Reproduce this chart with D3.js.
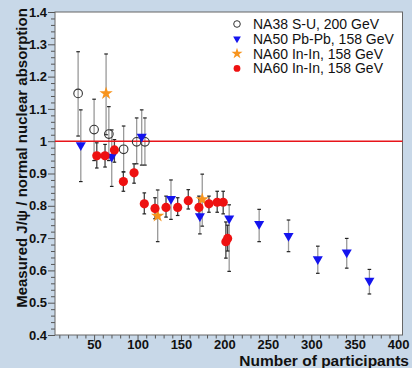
<!DOCTYPE html>
<html>
<head>
<meta charset="utf-8">
<script src="https://cdn.jsdelivr.net/npm/d3@7"></script>
<style>
  body { margin: 0; background: #c8d8e8; }
  svg { display: block; }
</style>
</head>
<body>
<script>
// [participants, ratio, low, high]
const na38 = [
  [31.6, 1.148, 1.016, 1.277],
  [50, 1.036, 0.94, 1.13],
  [67, 1.022, 0.94, 1.107],
  [84, 0.975, 0.905, 1.047],
  [99, 0.998, 0.93, 1.072],
  [108.5, 0.998, 0.926, 1.072]
]
const na50 = [
  [34.7, 0.988, 0.875, 1.097],
  [70.3, 0.952, 0.86, 1.035],
  [104.8, 1.014, 0.926, 1.097],
  [138.5, 0.821, 0.758, 0.88],
  [171.8, 0.768, 0.713, 0.82],
  [205.5, 0.761, 0.597, 0.803],
  [240, 0.744, 0.689, 0.789],
  [273.8, 0.707, 0.658, 0.756],
  [307.5, 0.635, 0.591, 0.675],
  [340.8, 0.656, 0.607, 0.699],
  [366.9, 0.568, 0.527, 0.603]
]
const na60Star = [
  [63.8, 1.148, 1.02, 1.27],
  [123.2, 0.769, 0.689, 0.849],
  [174.5, 0.82, 0.737, 0.898]
]
const na60Dot = [
  [53.1, 0.955, 0.917, 0.995],
  [62.6, 0.955, 0.92, 0.99],
  [73.4, 0.973, 0.935, 1.005],
  [83.7, 0.875, 0.845, 0.905],
  [96, 0.902, 0.87, 0.93],
  [107.8, 0.806, 0.775, 0.84],
  [120.1, 0.792, 0.76, 0.825],
  [132.8, 0.795, 0.765, 0.83],
  [146.2, 0.795, 0.77, 0.825],
  [158.4, 0.816, 0.79, 0.85],
  [170.7, 0.795, 0.77, 0.83],
  [182.2, 0.806, 0.78, 0.83],
  [191.7, 0.811, 0.78, 0.845],
  [198.6, 0.811, 0.775, 0.845],
  [201.7, 0.689, 0.638, 0.75],
  [203.7, 0.699, 0.66, 0.74]
]
const xTicks = [50, 100, 150, 200, 250, 300, 350, 400]
const yTicks = [0.4, 0.5, 0.6, 0.7, 0.8, 0.9, 1, 1.1, 1.2, 1.3, 1.4]
const legendLabels = [
  'NA38 S-U, 200 GeV',
  'NA50 Pb-Pb, 158 GeV',
  'NA60 In-In, 158 GeV',
  'NA60 In-In, 158 GeV'
]

const W = 412, H = 368
const font = "'Liberation Sans', Arial, Helvetica, sans-serif"
const plot = { left: 55, right: 402.5, top: 12, bottom: 335 }

const svg = d3.select('body').append('svg')
  .attr('width', W)
  .attr('height', H)

svg.append('rect').attr('width', W).attr('height', H).attr('fill', '#c8d8e8')

const x = d3.scaleLinear().domain([5, 405]).range([plot.left, plot.right])
const y = d3.scaleLinear().domain([0.4, 1.4]).range([plot.bottom, plot.top])

// plot area
svg.append('rect')
  .attr('x', plot.left).attr('y', plot.top)
  .attr('width', plot.right - plot.left).attr('height', plot.bottom - plot.top)
  .attr('fill', '#fff')

// minor ticks
const xMinor = d3.range(10, 401, 10).filter(v => v % 50 !== 0)
const yMinor = d3.range(0, 51).map(i => +(0.4 + i * 0.02).toFixed(2)).filter(v => Math.round(v * 100) % 10 !== 0)

svg.append('g')
  .attr('transform', `translate(0, ${plot.bottom})`)
  .call(d3.axisBottom(x).tickValues(xMinor).tickSize(3.5).tickFormat('').tickSizeOuter(0))
svg.append('g')
  .attr('transform', `translate(${plot.left}, 0)`)
  .call(d3.axisLeft(y).tickValues(yMinor).tickSize(4).tickFormat('').tickSizeOuter(0))

// major axes
const xAxis = svg.append('g')
  .attr('transform', `translate(0, ${plot.bottom})`)
  .call(d3.axisBottom(x).tickValues(xTicks).tickSize(6.5).tickSizeOuter(0))
xAxis.selectAll('text').attr('y', 5).attr('dy', '0.71em')

const yAxis = svg.append('g')
  .attr('transform', `translate(${plot.left}, 0)`)
  .call(d3.axisLeft(y).tickValues(yTicks).tickSize(7).tickPadding(1).tickFormat(d3.format('~g')))

svg.selectAll('.tick text')
  .attr('font-family', font)
  .attr('font-size', 13)
  .attr('font-weight', 'bold')
  .attr('fill', '#111')
svg.selectAll('.domain').remove()
svg.selectAll('.tick line').attr('stroke', '#555').attr('stroke-width', 1)

// frame
svg.append('rect')
  .attr('x', plot.left).attr('y', plot.top)
  .attr('width', plot.right - plot.left).attr('height', plot.bottom - plot.top)
  .attr('fill', 'none')
  .attr('stroke', '#666')
  .attr('stroke-width', 1)

// error bars
function errorBars(data, color) {
  const g = svg.append('g')
  g.selectAll('line.bar')
    .data(data)
    .join('line')
    .attr('class', 'bar')
    .attr('x1', d => x(d[0])).attr('x2', d => x(d[0]))
    .attr('y1', d => y(d[2])).attr('y2', d => y(d[3]))
    .attr('stroke', color)
    .attr('stroke-width', 1.3)
  const caps = data.flatMap(d => [[d[0], d[2]], [d[0], d[3]]])
  g.selectAll('line.cap')
    .data(caps)
    .join('line')
    .attr('class', 'cap')
    .attr('x1', d => x(d[0]) - 1.8).attr('x2', d => x(d[0]) + 1.8)
    .attr('y1', d => y(d[1])).attr('y2', d => y(d[1]))
    .attr('stroke', '#222')
    .attr('stroke-width', 1.2)
}
errorBars(na38, '#999')
errorBars(na50, '#999')
errorBars(na60Star, '#999')
errorBars(na60Dot, '#444')

// reference line at 1
svg.append('line')
  .attr('x1', plot.left).attr('x2', plot.right)
  .attr('y1', y(1)).attr('y2', y(1))
  .attr('stroke', '#e8141a')
  .attr('stroke-width', 1.5)

const triangle = d3.symbol().type(d3.symbolTriangle).size(44)
const star = d3.symbol().type(d3.symbolStar).size(55)

// markers
svg.append('g').selectAll('circle')
  .data(na38)
  .join('circle')
  .attr('cx', d => x(d[0])).attr('cy', d => y(d[1]))
  .attr('r', 4.3)
  .attr('fill', 'none')
  .attr('stroke', '#333')
  .attr('stroke-width', 1.1)

svg.append('g').selectAll('path')
  .data(na50)
  .join('path')
  .attr('d', triangle)
  .attr('transform', d => `translate(${x(d[0])}, ${y(d[1])}) rotate(180)`)
  .attr('fill', '#1414ee')

svg.append('g').selectAll('path')
  .data(na60Star)
  .join('path')
  .attr('d', star)
  .attr('transform', d => `translate(${x(d[0])}, ${y(d[1])})`)
  .attr('fill', '#f7941d')

svg.append('g').selectAll('circle')
  .data(na60Dot)
  .join('circle')
  .attr('cx', d => x(d[0])).attr('cy', d => y(d[1]))
  .attr('r', 4.6)
  .attr('fill', '#ee1111')

// legend
const legend = svg.append('g').attr('transform', 'translate(237, 24)')
const rowH = 14.8
legend.append('circle').attr('cx', 0).attr('cy', 0).attr('r', 3.3)
  .attr('fill', 'none').attr('stroke', '#333').attr('stroke-width', 1)
legend.append('path').attr('d', d3.symbol().type(d3.symbolTriangle).size(26))
  .attr('transform', `translate(0, ${rowH}) rotate(180)`).attr('fill', '#1414ee')
legend.append('path').attr('d', d3.symbol().type(d3.symbolStar).size(38))
  .attr('transform', `translate(0, ${rowH * 2})`).attr('fill', '#f7941d')
legend.append('circle').attr('cx', 0).attr('cy', rowH * 3).attr('r', 3.4).attr('fill', '#ee1111')
legend.selectAll('text')
  .data(legendLabels)
  .join('text')
  .attr('x', 16)
  .attr('y', (_, i) => i * rowH)
  .attr('dy', '0.36em')
  .attr('font-family', font)
  .attr('font-size', 14)
  .attr('fill', '#111')
  .text(d => d)

// axis titles
svg.append('text')
  .attr('x', 409)
  .attr('y', 366)
  .attr('text-anchor', 'end')
  .attr('font-family', font)
  .attr('font-size', 15.5)
  .attr('font-weight', 'bold')
  .attr('fill', '#111')
  .text('Number of participants')

svg.append('text')
  .attr('transform', 'translate(26.5, 158) rotate(-90)')
  .attr('text-anchor', 'middle')
  .attr('font-family', font)
  .attr('font-size', 15)
  .attr('font-weight', 'bold')
  .attr('fill', '#111')
  .text('Measured J/\u03c8 / normal nuclear absorption')
</script>
</body>
</html>
